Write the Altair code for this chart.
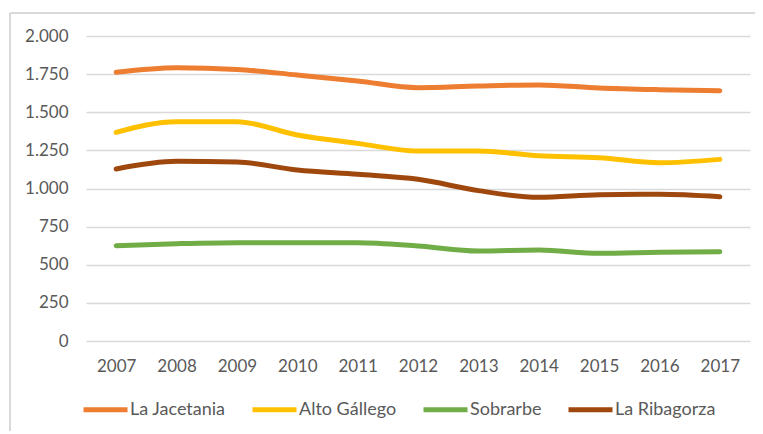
import altair as alt
import pandas as pd

years = [str(y) for y in range(2007, 2018)]
jacetania = [1762, 1792, 1781, 1744, 1705, 1661, 1672, 1679, 1659, 1648, 1641]
alto_gallego = [1368, 1438, 1438, 1351, 1296, 1246, 1246, 1215, 1202, 1169, 1191]
sobrarbe = [625, 638, 645, 645, 645, 623, 590, 597, 575, 582, 586]
ribagorza = [1128, 1178, 1174, 1121, 1093, 1060, 986, 942, 959, 962, 946]
series_names = ["La Jacetania", "Alto Gállego", "Sobrarbe", "La Ribagorza"]
series_colors = ["#ED7D31", "#FFC000", "#70AD47", "#9E480E"]
y_ticks = [0, 250, 500, 750, 1000, 1250, 1500, 1750, 2000]

rows = []
for name, vals in zip(series_names, [jacetania, alto_gallego, sobrarbe, ribagorza]):
    for yr, v in zip(years, vals):
        rows.append({"Año": yr, "Valor": v, "Serie": name})
df = pd.DataFrame(rows)

FONT = "Lato"
TXT = "#595959"
GRID = "#D9D9D9"

lines = alt.Chart(df).mark_line(strokeWidth=5, strokeCap="round", interpolate="monotone").encode(
    x=alt.X("Año:N", sort=years, title=None,
            scale=alt.Scale(paddingInner=0, paddingOuter=0.5),
            axis=alt.Axis(labelAngle=0, ticks=False, domain=False, grid=False,
                          labelFont=FONT, labelFontSize=17, labelColor=TXT, labelPadding=17)),
    y=alt.Y("Valor:Q", title=None,
            scale=alt.Scale(domain=[0, 2000], nice=False),
            axis=alt.Axis(values=y_ticks, ticks=False, domain=False, grid=True,
                          gridColor=GRID, gridWidth=1.5,
                          labelExpr="replace(format(datum.value, ','), ',', '.')",
                          labelFont=FONT, labelFontSize=17, labelColor=TXT, labelPadding=18)),
    color=alt.Color("Serie:N", sort=series_names, title=None,
                    scale=alt.Scale(domain=series_names, range=series_colors),
                    legend=alt.Legend(orient="none", direction="horizontal", legendX=-5, legendY=349,
                                      symbolType="stroke", symbolSize=1936, symbolStrokeWidth=5,
                                      labelFont=FONT, labelFontSize=18, labelColor=TXT,
                                      labelOffset=0, columnPadding=16)),
    order=alt.Order("Serie:N"),
)

frame_top = alt.Chart(pd.DataFrame({"k": [0]})).mark_rule(color=GRID, strokeWidth=2).encode(
    x=alt.value(-76), x2=alt.value(700), y=alt.value(-23))
frame_left = alt.Chart(pd.DataFrame({"k": [0]})).mark_rule(color=GRID, strokeWidth=2).encode(
    x=alt.value(-76), y=alt.value(-23), y2=alt.value(420))

chart = alt.layer(frame_top, frame_left, lines).properties(
    width=664, height=305,
    autosize=alt.AutoSizeParams(type="none"),
    padding={"left": 78, "top": 28, "right": 5, "bottom": 90},
    background="white",
).configure_view(stroke=None)

chart.save("out.html", embed_options={"renderer": "svg", "actions": False})
